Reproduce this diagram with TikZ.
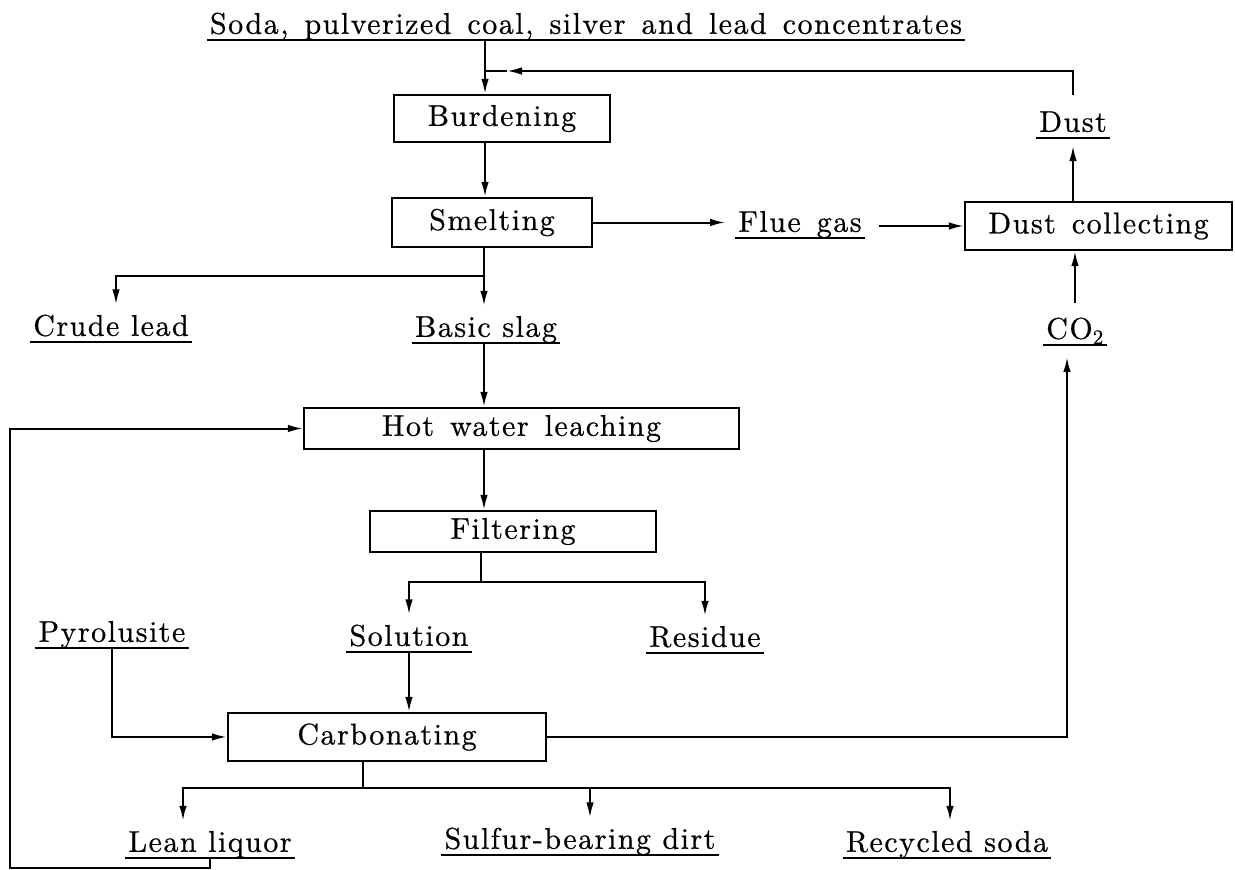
\documentclass[tikz,border=0pt]{standalone}
\usepackage{fontspec}
\setmainfont{lmroman10-regular.otf}[LetterSpace=5, FakeBold=0.6]
\usetikzlibrary{arrows.meta,calc}
\newcommand{\wsp}{\hspace{16pt}}
\begin{document}
\begin{tikzpicture}[x=1pt,y=-1pt,
  every node/.style={font=\fontsize{30}{36}\selectfont},
  box/.style={draw, line width=2.2pt, inner sep=0pt},
  uline/.style={draw, line width=2.6pt},
  lbl/.style={inner xsep=3pt, inner ysep=0pt, text depth=6pt, anchor=south,
     append after command={(\tikzlastnode.south west) edge[uline] (\tikzlastnode.south east)}},
  ln/.style={line width=2pt},
  arr/.style={ln, -{Latex[length=15pt,width=7.5pt]}},
  arrl/.style={arr, shorten >=10pt}]
\useasboundingbox (0,0) rectangle (1235,870);

% boxes
\node[box, minimum width=216pt, minimum height=47pt] (burd) at (502,118.5) {Burdening};
\node[box, minimum width=200pt, minimum height=49pt] (smelt) at (492,222.5) {Smelting};
\node[box, minimum width=267pt, minimum height=48pt] (dustc) at (1098.5,226) {Dust\wsp collecting};
\node[box, minimum width=435pt, minimum height=41pt] (hot) at (521.5,428.5) {Hot\wsp water\wsp leaching};
\node[box, minimum width=286pt, minimum height=41pt] (filt) at (513,531.5) {Filtering};
\node[box, minimum width=318pt, minimum height=48pt] (carb) at (387,737) {Carbonating};

% labels
\node[lbl] (top) at (586,40) {Soda,\wsp pulverized\wsp coal,\wsp silver\wsp and\wsp lead\wsp concentrates};
\node[lbl] (flue) at (800,238) {Flue\wsp gas};
\node[lbl] (dust) at (1073,138) {Dust};
\node[lbl] (crude) at (111,342) {Crude lead};
\node[lbl] (slag) at (486,343) {Basic slag};
\node[lbl] (co2) at (1075,345) {CO\textsubscript{2}};
\node[lbl] (sol) at (409,652) {Solution};
\node[lbl] (res) at (705,653) {Residue};
\node[lbl] (pyro) at (112,648) {Pyrolusite};
\node[lbl] (lean) at (210,858) {Lean liquor};
\node[lbl] (sulf) at (580,855) {Sulfur-bearing dirt};
\node[lbl] (recy) at (947,858) {Recycled soda};

% coordinates
\coordinate (j0) at (485,40);
\coordinate (jfb) at (485,71);
\coordinate (fbt) at (507,71);
\coordinate (s1) at (484,276);
\coordinate (s2) at (481,582);
\coordinate (s3) at (363,788);
\coordinate (lp) at (10,868);

% main spine
\draw[arr] (j0) -- (j0 |- burd.north);
\draw[arr] (j0 |- burd.south) -- (j0 |- smelt.north);
\draw[ln] (s1 |- smelt.south) -- (s1);
\draw[arrl] (s1) -| ($(crude.north)+(5,0)$);
\draw[arrl] (s1) -- (s1 |- slag.north);
\draw[arr] (s1 |- slag.south) -- (s1 |- hot.north);
\draw[arr] (s1 |- hot.south) -- (s1 |- filt.north);
\draw[ln] (s2 |- filt.south) -- (s2);
\draw[arrl] (s2) -| (sol.north);
\draw[arrl] (s2) -| (res.north);
\draw[arr] (sol.south) -- (sol.south |- carb.north);
\draw[arr] (pyro.south) |- (carb.west);
\draw[ln] (s3 |- carb.south) -- (s3);
\draw[arrl] (s3) -| ($(lean.north)+(-27,0)$);
\draw[arrl] (s3) -| ($(sulf.north)+(10,0)$);
\draw[arrl] (s3) -| ($(recy.north)+(3,0)$);

% recycle loop
\draw[arr] (lean.south) |- (lp) |- (hot.west);

% flue gas and dust
\draw[arrl] (smelt.east) -- (flue.west |- smelt.east);
\draw[arr, shorten <=14pt] (flue.east |- dustc.west) -- (dustc.west);
\draw[arr, shorten >=8pt] (dustc.north -| dust.south) -- (dust.south);
\draw[arr, shorten <=16pt] (dust.north) |- (fbt);
\draw[ln] (fbt) -- (jfb);

% CO2
\draw[arr, shorten <=14pt] (co2.north) -- (co2.north |- dustc.south);
\draw[arr] (carb.east) -| ($(co2.south)+(-8,12)$);
\end{tikzpicture}
\end{document}
